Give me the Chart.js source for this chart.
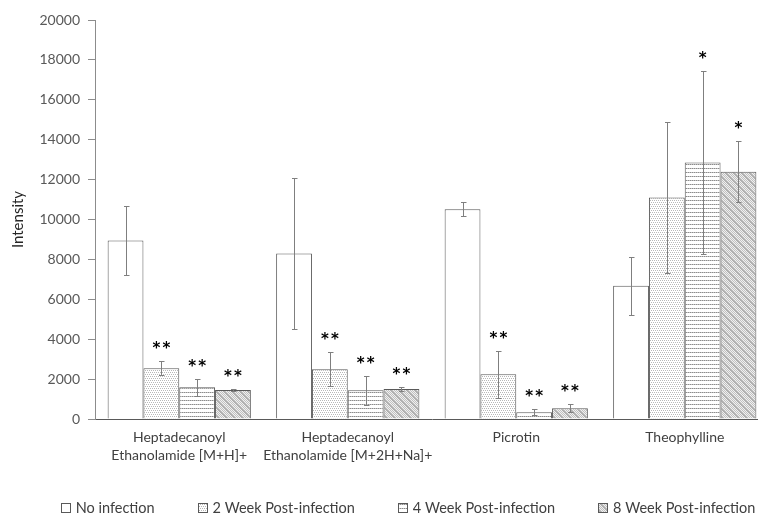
<!DOCTYPE html>
<html><head><meta charset="utf-8">
<script src="https://cdn.jsdelivr.net/npm/chart.js@4/dist/chart.umd.min.js"></script>
<style>
html,body{margin:0;padding:0;background:#fff;overflow:hidden;}
#wrap{width:758px;height:515px;overflow:hidden;position:relative;background:#fff;}
canvas{display:block;}
</style></head><body>
<div id="wrap"><canvas id="c" width="820" height="515" style="width:820px;height:515px"></canvas></div>
<script>
// ---- data ----
const categories = [
  ['Heptadecanoyl', 'Ethanolamide [M+H]+'],
  ['Heptadecanoyl', 'Ethanolamide [M+2H+Na]+'],
  'Picrotin',
  'Theophylline'
];
const seriesNames = ['No infection', '2 Week Post-infection', '4 Week Post-infection', '8 Week Post-infection'];
const noInfection = [8950, 8300, 10520, 6680];
const week2 = [2540, 2490, 2240, 11100];
const week4 = [1590, 1440, 335, 12860];
const week8 = [1450, 1500, 535, 12390];
const errNoInfection = [1750, 3770, 360, 1450];
const errWeek2 = [350, 860, 1170, 3780];
const errWeek4 = [420, 720, 150, 4600];
const errWeek8 = [60, 120, 200, 1520];
const sigNoInfection = ['', '', '', ''];
const sigWeek2 = ['**', '**', '**', ''];
const sigWeek4 = ['**', '**', '**', '*'];
const sigWeek8 = ['**', '**', '**', '*'];
const yTicks = [0, 2000, 4000, 6000, 8000, 10000, 12000, 14000, 16000, 18000, 20000];

const seriesValues = [noInfection, week2, week4, week8];
const seriesErrors = [errNoInfection, errWeek2, errWeek4, errWeek8];
const seriesSig = [sigNoInfection, sigWeek2, sigWeek4, sigWeek8];

// ---- patterns ----
function makePattern(w, h, fn) {
  const cv = document.createElement('canvas');
  cv.width = w; cv.height = h;
  const c = cv.getContext('2d');
  c.fillStyle = '#ffffff'; c.fillRect(0, 0, w, h);
  for (let y = 0; y < h; y++) for (let x = 0; x < w; x++) {
    const col = fn(x, y);
    if (col) { c.fillStyle = col; c.fillRect(x, y, 1, 1); }
  }
  return c.createPattern(cv, 'repeat');
}
const patWhite = '#ffffff';
const patDots = makePattern(4, 4, (x, y) => ((y === 0 && x % 2 === 0) || (y === 2 && x % 2 === 1)) ? '#b8b8b8' : null);
const patHoriz = makePattern(4, 4, (x, y) => y === 0 ? (x % 2 === 0 ? '#8c8c8c' : '#c4c4c4') : null);
const patDiag = makePattern(8, 8, (x, y) => {
  const d = ((x - y) % 8 + 8) % 8;
  if (d === 0 || d === 1) return '#b0b0b0';
  return ((x + y) % 2 === 0) ? '#c0c0c0' : '#f0f0f0';
});
const fills = [patWhite, patDots, patHoriz, patDiag];

const FONT = 'Lato';
Chart.defaults.font.family = FONT;

const errorPlugin = {
  id: 'errbars',
  afterDatasetsDraw(chart) {
    const ctx = chart.ctx;
    const ys = chart.scales.y;
    ctx.save();
    ctx.font = 'bold 15px "DejaVu Sans"';
    const m = ctx.measureText('*');
    const starShift = (m.actualBoundingBoxAscent - m.actualBoundingBoxDescent) / 2;
    chart.data.datasets.forEach((ds, di) => {
      const meta = chart.getDatasetMeta(di);
      meta.data.forEach((bar, i) => {
        const v = ds.data[i], e = seriesErrors[di][i];
        const x = Math.round(bar.x) + 0.5;
        const yt = Math.round(ys.getPixelForValue(v + e)) + 0.5;
        const yb = Math.round(ys.getPixelForValue(v - e)) + 0.5;
        ctx.strokeStyle = '#7f7f7f';
        ctx.lineWidth = 1;
        ctx.beginPath();
        ctx.moveTo(x, yt); ctx.lineTo(x, yb);
        ctx.moveTo(x - 2.5, yt); ctx.lineTo(x + 3, yt);
        ctx.moveTo(x - 2.5, yb); ctx.lineTo(x + 3, yb);
        ctx.stroke();
        const s = seriesSig[di][i];
        if (s) {
          ctx.fillStyle = '#000000';
          ctx.textAlign = 'center';
          ctx.textBaseline = 'alphabetic';
          const n = s.length, step = 10;
          const cy = yt - 17 + starShift;
          for (let k = 0; k < n; k++) {
            ctx.fillText('*', bar.x + (k - (n - 1) / 2) * step, cy);
          }
        }
      });
    });
    ctx.restore();
  },
  afterDraw(chart) {
    // legend
    const ctx = chart.ctx;
    ctx.save();
    ctx.font = '14.5px ' + FONT;
    const box = 10, gap = 5, spacing = 43;
    const widths = seriesNames.map(n => box + gap + ctx.measureText(n).width);
    const total = widths.reduce((a, b) => a + b, 0) + spacing * (seriesNames.length - 1);
    let x = 408 - total / 2;
    const yc = 508;
    seriesNames.forEach((n, i) => {
      ctx.fillStyle = fills[i];
      ctx.fillRect(Math.round(x), yc - 5, box, box);
      ctx.strokeStyle = '#595959';
      ctx.lineWidth = 1;
      ctx.strokeRect(Math.round(x) + 0.5, yc - 5 + 0.5, box - 1, box - 1);
      ctx.fillStyle = '#404040';
      ctx.textAlign = 'left';
      ctx.textBaseline = 'middle';
      ctx.fillText(n, x + box + gap, yc);
      x += widths[i] + spacing;
    });
    ctx.restore();
  }
};

new Chart(document.getElementById('c'), {
  type: 'bar',
  data: {
    labels: categories,
    datasets: seriesValues.map((vals, i) => ({
      label: seriesNames[i],
      data: vals,
      backgroundColor: fills[i],
      borderColor: '#595959',
      borderWidth: 1,
      categoryPercentage: 0.85,
      barPercentage: 1.0
    }))
  },
  options: {
    responsive: false,
    devicePixelRatio: 1,
    animation: false,
    layout: { padding: { left: 0, top: 20, right: 51, bottom: 0 } },
    plugins: { legend: { display: false }, tooltip: { enabled: false } },
    scales: {
      x: {
        grid: { display: false, drawTicks: false },
        border: { display: true, color: '#595959', width: 1 },
        ticks: { color: '#404040', font: { size: 14, lineHeight: 1.3 }, padding: 9, maxRotation: 0, autoSkip: false },
        afterFit: s => { s.height = 96; }
      },
      y: {
        min: 0, max: 20000,
        afterBuildTicks: s => { s.ticks = yTicks.map(v => ({ value: v })); },
        grid: { drawOnChartArea: false, drawTicks: true, tickLength: 7, color: '#8c8c8c' },
        border: { display: true, color: '#8c8c8c', width: 1 },
        ticks: { color: '#595959', font: { size: 14 }, padding: 8, callback: v => String(v) },
        title: { display: true, text: 'Intensity', color: '#262626', font: { size: 15 }, padding: { top: 9, bottom: 0 } },
        afterFit: s => { s.width = 95; }
      }
    }
  },
  plugins: [errorPlugin]
});
</script>
</body></html>
